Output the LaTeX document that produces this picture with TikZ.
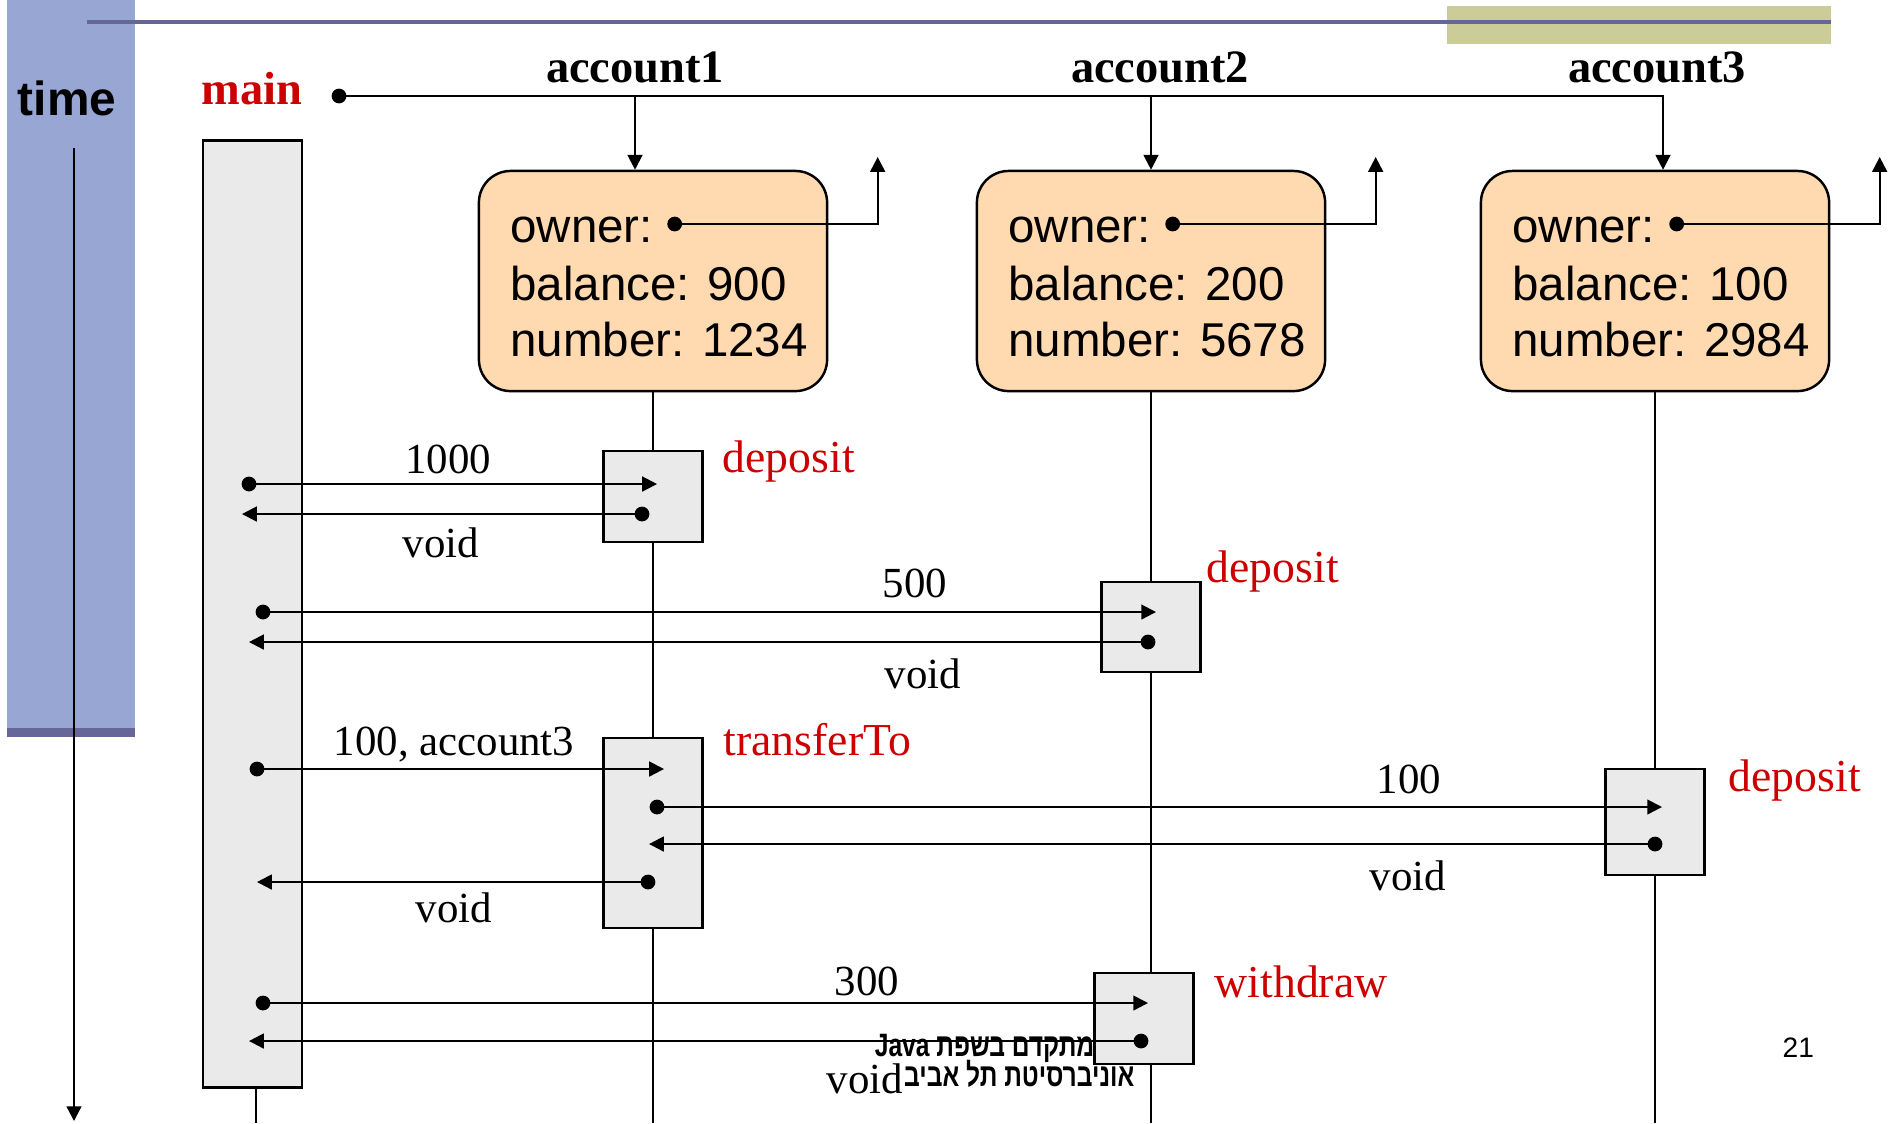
\documentclass[tikz,border=0pt]{standalone}
\usepackage{fontspec}
\setmainfont{Liberation Serif}
\newfontfamily\sansobj{Liberation Sans}
\newfontfamily\hdfont{Liberation Serif}
\newfontfamily\hebfont[Script=Hebrew,FakeStretch=0.76]{Liberation Sans}
\TeXXeTstate=1
\usetikzlibrary{arrows.meta, calc, positioning}
\definecolor{timeblue}{HTML}{97A6D2}
\definecolor{slateline}{HTML}{666699}
\definecolor{olivebar}{HTML}{CCCC99}
\definecolor{objpeach}{HTML}{FFD9B0}
\definecolor{actgray}{HTML}{EAEAEA}
\definecolor{callred}{HTML}{CC0000}
\tikzset{
  pto/.style={-{Triangle[length=4.2pt,width=4.2pt]},line width=0.6pt},
  life/.style={line width=0.55pt},
  objbox/.style={draw,line width=0.7pt,fill=objpeach,rounded corners=9pt,minimum width=3.48cm,minimum height=2.2cm,inner sep=0pt},
  field/.style={font=\sansobj\fontsize{13.5}{16}\selectfont,anchor=base west,inner sep=0pt},
  act/.style={draw,line width=0.8pt,fill=actgray,minimum width=0.99cm,inner sep=0pt},
  lbl/.style={font=\fontsize{12.2}{14}\selectfont,anchor=base,inner sep=0pt},
  meth/.style={font=\fontsize{13}{15}\selectfont,text=callred,anchor=base west,inner sep=0pt},
  hdr/.style={font=\hdfont\bfseries\fontsize{13.2}{15}\selectfont,anchor=base,inner sep=0pt},
  foot/.style={font=\hebfont\bfseries\fontsize{9.2}{11}\selectfont,anchor=base east,inner sep=0pt}
}

\begin{document}
\begin{tikzpicture}[x=0.01cm,y=-0.01cm]
  \def\dotr{2.1pt}
  \useasboundingbox (0,0) rectangle (1892,1123);
  \coordinate (bottom) at (0,1123);

  % slide frame
  \fill[timeblue] (7,0) rectangle (135,730);
  \fill[slateline] (7,728) rectangle (135,737);
  \fill[olivebar] (1447,6) rectangle (1831,44);
  \draw[slateline,line width=1.2pt] (87,22) -- (1831,22);
  \node[font=\sansobj\bfseries\fontsize{13.6}{16}\selectfont,anchor=base,inner sep=0pt] (time) at (67,115) {time};
  \coordinate (ttop) at (74,148);
  \coordinate (tend) at (74,1121);
  \draw[pto] (ttop) -- (tend);

  % objects
  \foreach \i/\cx/\bal/\num in {1/653/900/1234, 2/1151/200/5678, 3/1655/100/2984} {
    \draw[life] (\cx,391) -- (\cx,1123);
    \node[objbox] (acc\i) at (\cx,281) {};
    \node[field] (own\i) at ($(acc\i.west)+(32,-39)$) {owner:};
    \node[field] (bal\i) at ($(acc\i.west)+(32,19)$) {balance: \bal};
    \node[field] (num\i) at ($(acc\i.west)+(32,75)$) {number: \num};
    \fill ($(acc\i.west)+(197,-57)$) circle[radius=\dotr] coordinate (od\i);
    \draw[pto] (od\i) -| ++(203,-67);
  }

  \node[hdr] (hd1) at (635,82) {account1};
  \node[hdr] (hd2) at (1160,82) {account2};
  \node[hdr] (hd3) at (1657,82) {account3};
  \node[hdr,text=callred,anchor=base west] (mainlbl) at (201,104) {main};

  \fill (339,96) circle[radius=\dotr] coordinate (mref);
  \draw[pto] (mref) -| ($(acc3.north)+(8,0)$);
  \draw[pto] (hd1 |- mref) -- (hd1 |- acc1.north);
  \draw[pto] (acc2.north |- mref) -- (acc2.north);

  % activations
  \node[act,minimum height=9.46cm] (mbar) at (252.5,614) {};
  \draw[life] ($(mbar.south)+(3.5,0)$) -- ($(mbar.south |- bottom)+(3.5,0)$);
  \node[act,minimum height=0.91cm] (dep1) at (acc1 |- 0,496.5) {};
  \node[act,minimum height=0.90cm] (dep2) at (acc2 |- 0,627) {};
  \node[act,minimum height=1.90cm] (trans) at (acc1 |- 0,833) {};
  \node[act,minimum height=1.06cm] (dep3) at (acc3 |- 0,822) {};
  \node[act,minimum height=0.91cm] (wd) at (1144,1018.5) {};

  % calls and returns
  \foreach \y/\xa/\xb [count=\k] in {484/249/657, 612/263/1156, 769/257/664, 807/657/1662, 1003/263/1148,
                                     514/642/242, 642/1148/249, 882/648/257, 844/1655/649, 1041/1141/249} {
    \fill (\xa,\y) circle[radius=\dotr] coordinate (cs\k);
    \coordinate (ce\k) at (\xb,\y);
    \draw[pto] (cs\k) -- (ce\k);
  }

  \foreach \x/\y/\t [count=\k] in {448/473/1000, 441/557/void, 915/597/500, 923/688/void, 454/755/{100, account3},
                                   454/922/void, 1409/793/100, 1408/890/void, 867/995/300, 865/1093/void}
    \node[lbl] (arg\k) at (\x,\y) {\t};

  \node[meth] (mdep1) at (722,472) {deposit};
  \node[meth] (mdep2) at (1206,582) {deposit};
  \node[meth] (mtrans) at (723,755) {transferTo};
  \node[meth] (mdep3) at (1728,791) {deposit};
  \node[meth] (mwd) at (1214,997) {withdraw};

  % footer
  \node[foot] (ftr1) at (1095,1056) {\beginR מתקדם בשפת Java\endR};
  \node[foot] (ftr2) at (1135,1086) {\beginR אוניברסיטת תל אביב\endR};
  \node[font=\sansobj\fontsize{8}{10}\selectfont,anchor=base west,inner sep=0pt] (pgno) at (1782,1057) {21};
\end{tikzpicture}
\end{document}
